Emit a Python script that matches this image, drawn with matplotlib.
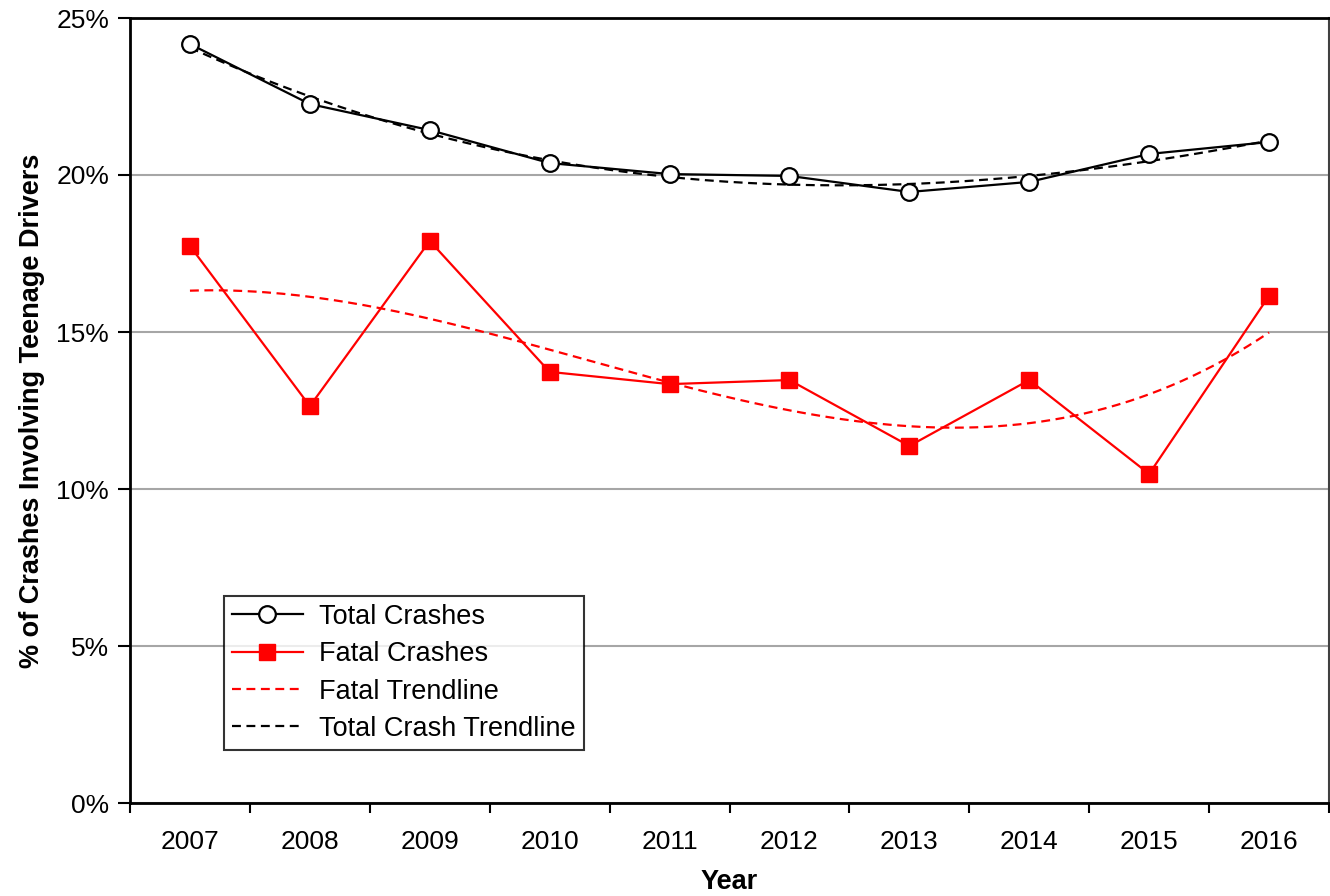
import matplotlib
matplotlib.use("Agg")
import matplotlib.pyplot as plt
from matplotlib.ticker import FuncFormatter, FixedLocator
import numpy as np

plt.rcParams['font.family'] = ['Liberation Sans', 'DejaVu Sans']

years = ['2007', '2008', '2009', '2010', '2011', '2012', '2013', '2014', '2015', '2016']
total_crashes = [24.17, 22.26, 21.43, 20.38, 20.03, 19.97, 19.46, 19.78, 20.67, 21.05]
fatal_crashes = [17.74, 12.64, 17.90, 13.73, 13.34, 13.47, 11.37, 13.47, 10.48, 16.15]
trend_order = 3

x = np.arange(len(years))
xs = np.linspace(0, len(years) - 1, 200)
total_trend = np.polyval(np.polyfit(x, total_crashes, trend_order), xs)
fatal_trend = np.polyval(np.polyfit(x, fatal_crashes, trend_order), xs)

fig = plt.figure(figsize=(13.3, 8.96), dpi=100)
ax = fig.add_axes([130/1330, 93/896, 1199/1330, 785/896])

ax.plot(x, total_crashes, color='black', lw=1.6, marker='o', ms=12,
        mfc='white', mec='black', mew=1.6, label='Total Crashes', zorder=4)
ax.plot(x, fatal_crashes, color='#ff0000', lw=1.6, marker='s', ms=12,
        mfc='#ff0000', mec='#ff0000', label='Fatal Crashes', zorder=4)
ax.plot(xs, fatal_trend, color='#ff0000', lw=1.6, ls=(0, (4, 2.5)),
        label='Fatal Trendline', zorder=3)
ax.plot(xs, total_trend, color='black', lw=1.6, ls=(0, (4, 2.5)),
        label='Total Crash Trendline', zorder=3)

ax.set_xlim(-0.5, len(years) - 0.5)
ax.set_ylim(0, 25)
ax.set_yticks([0, 5, 10, 15, 20, 25])
ax.yaxis.set_major_formatter(FuncFormatter(lambda v, p: f'{v:.0f}%'))
ax.yaxis.grid(True, color='#a6a6a6', lw=1.5)
ax.set_axisbelow(True)

ax.set_xticks(x)
ax.set_xticklabels(years)
ax.xaxis.set_minor_locator(FixedLocator(np.arange(-0.5, len(years), 1.0)))
ax.tick_params(axis='x', which='major', length=0, pad=19.5, labelsize=19)
ax.tick_params(axis='x', which='minor', length=7, width=1.5, direction='out')
ax.tick_params(axis='y', length=9, width=1.5, direction='out', labelsize=19, pad=6)

for side in ['left', 'bottom', 'top']:
    ax.spines[side].set_linewidth(2)
    ax.spines[side].set_color('black')
ax.spines['right'].set_linewidth(1.5)
ax.spines['right'].set_color('#404040')

ax.set_ylabel('% of Crashes Involving Teenage Drivers', fontsize=19.5,
              fontweight='bold', labelpad=8)
ax.set_xlabel('Year', fontsize=19.5, fontweight='bold', labelpad=11)

leg = ax.legend(loc='lower left', bbox_to_anchor=(94/1199, 53/785),
                fontsize=19.5, frameon=True, fancybox=False, handlelength=2.6,
                borderpad=0.3, labelspacing=0.42, handletextpad=0.6,
                borderaxespad=0)
leg.get_frame().set_edgecolor('black')
leg.get_frame().set_linewidth(1.5)

fig.savefig('out.png', dpi=100)
